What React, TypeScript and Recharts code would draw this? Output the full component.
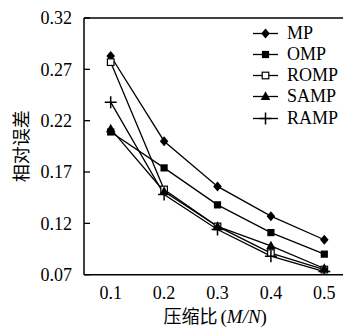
import React from 'react';
import { LineChart, Line, XAxis, YAxis, ReferenceLine, Legend, Label } from 'recharts';

const ratios = [0.1, 0.2, 0.3, 0.4, 0.5];
const mpErr = [0.283, 0.2, 0.156, 0.127, 0.104];
const ompErr = [0.209, 0.174, 0.138, 0.111, 0.09];
const rompErr = [0.277, 0.153, 0.117, 0.091, 0.075];
const sampErr = [0.212, 0.151, 0.117, 0.098, 0.076];
const rampErr = [0.238, 0.148, 0.114, 0.088, 0.073];

const seriesNames = ['MP', 'OMP', 'ROMP', 'SAMP', 'RAMP'];
const markerKinds = ['diamond', 'square', 'osquare', 'triangle', 'plus'];
const xLabelTicks = [0.1, 0.2, 0.3, 0.4, 0.5];
const xMinorTicks = [0.15, 0.25, 0.35, 0.45];
const yTicks = [0.07, 0.12, 0.17, 0.22, 0.27, 0.32];

const data = ratios.map((r, i) => ({
  r,
  MP: mpErr[i],
  OMP: ompErr[i],
  ROMP: rompErr[i],
  SAMP: sampErr[i],
  RAMP: rampErr[i],
}));

const SERIF = "'Liberation Serif', 'DejaVu Serif', 'Times New Roman', Tinos, serif";
const CJK = "'Noto Sans CJK SC', sans-serif";

function Marker({ kind, cx, cy }: { kind: string; cx: number; cy: number }) {
  if (cx == null || cy == null) return null;
  switch (kind) {
    case 'diamond':
      return <polygon points={`${cx},${cy - 5} ${cx + 4.3},${cy} ${cx},${cy + 5} ${cx - 4.3},${cy}`} fill="#000" />;
    case 'square':
      return <rect x={cx - 3.6} y={cy - 3.6} width={7.2} height={7.2} fill="#000" />;
    case 'osquare':
      return <rect x={cx - 3.3} y={cy - 3.3} width={6.6} height={6.6} fill="#fff" stroke="#000" strokeWidth={1.2} />;
    case 'triangle':
      return <polygon points={`${cx},${cy - 5.2} ${cx + 4.8},${cy + 3.4} ${cx - 4.8},${cy + 3.4}`} fill="#000" />;
    case 'plus':
      return (
        <g stroke="#000" strokeWidth={1.5}>
          <line x1={cx - 6} y1={cy} x2={cx + 6} y2={cy} />
          <line x1={cx} y1={cy - 6} x2={cx} y2={cy + 6} />
        </g>
      );
    default:
      return null;
  }
}

const renderLegend = (props: any) => {
  const payload = [...(props.payload || [])].sort(
    (a: any, b: any) => seriesNames.indexOf(a.value) - seriesNames.indexOf(b.value)
  );
  return (
    <div style={{ fontFamily: SERIF, fontSize: 18, color: '#000' }}>
      {payload.map((p: any) => {
        const idx = seriesNames.indexOf(p.value);
        return (
          <div key={p.value} style={{ display: 'flex', alignItems: 'center', height: 21.25 }}>
            <svg width={26} height={21} style={{ display: 'block' }}>
              <line x1={0} y1={10.5} x2={25} y2={10.5} stroke="#000" strokeWidth={1.3} />
              <Marker kind={markerKinds[idx]} cx={12.5} cy={10.5} />
            </svg>
            <span style={{ marginLeft: 8, lineHeight: '21px', fontFamily: SERIF }}>{p.value}</span>
          </div>
        );
      })}
    </div>
  );
};

const XTitle = (props: any) => {
  const vb = props.viewBox || {};
  const cx = vb.x + vb.width / 2;
  const y = vb.y + vb.height + 48;
  return (
    <g fill="#000">
      <text x={cx + 4} y={y} textAnchor="end" style={{ fontFamily: CJK }} fontSize={18}>
        压缩比
      </text>
      <text x={cx + 7} y={y} textAnchor="start" style={{ fontFamily: SERIF }} fontSize={19}>
        (<tspan style={{ fontStyle: 'italic' }}>M/N</tspan>)
      </text>
    </g>
  );
};

const YTitle = (props: any) => {
  const vb = props.viewBox || {};
  const x = vb.x + 20;
  const y = vb.y + vb.height / 2;
  return (
    <text
      x={x}
      y={y}
      textAnchor="middle"
      dominantBaseline="central"
      transform={`rotate(-90 ${x} ${y})`}
      style={{ fontFamily: CJK }}
      fontSize={18}
      fill="#000"
    >
      相对误差
    </text>
  );
};

export default function App() {
  const axisStroke = { stroke: '#000', strokeWidth: 1.5 };
  const tickStyle = { fill: '#000', fontSize: 18, style: { fontFamily: SERIF } };
  return (
    <div style={{ position: 'absolute', left: 0, top: 0, fontFamily: SERIF }}>
      <LineChart width={345} height={334} data={data} margin={{ top: 18, right: 2, left: 0, bottom: 59.3 }}>
        <XAxis
          xAxisId="minor"
          type="number"
          dataKey="r"
          domain={[0.05, 0.535]}
          allowDataOverflow
          ticks={xMinorTicks}
          tick={false}
          tickSize={-6}
          tickLine={{ stroke: '#000', strokeWidth: 1.3 }}
          axisLine={false}
          height={0.01}
        />
        <XAxis
          xAxisId="main"
          type="number"
          dataKey="r"
          domain={[0.05, 0.535]}
          allowDataOverflow
          ticks={xLabelTicks}
          interval={0}
          tickFormatter={(v: number) => v.toFixed(1)}
          tick={tickStyle}
          tickLine={false}
          tickSize={6}
          tickMargin={6}
          axisLine={axisStroke}
          height={0.01}
        >
          <Label content={<XTitle />} />
        </XAxis>
        <YAxis
          type="number"
          domain={[0.07, 0.32]}
          allowDataOverflow
          ticks={yTicks}
          interval={0}
          tickFormatter={(v: number) => v.toFixed(2)}
          tick={tickStyle}
          tickSize={-6}
          tickMargin={18}
          tickLine={{ stroke: '#000', strokeWidth: 1.3 }}
          axisLine={axisStroke}
          width={84}
        >
          <Label content={<YTitle />} />
        </YAxis>
        <ReferenceLine xAxisId="main" y={0.32} stroke="#000" strokeWidth={1.5} />
        <Legend
          layout="horizontal"
          verticalAlign="middle"
          align="center"
          content={renderLegend}
          wrapperStyle={{ position: 'absolute', left: 253, top: 22.5, width: 92 }}
        />
        {seriesNames.map((name, i) => (
          <Line
            key={name}
            xAxisId="main"
            dataKey={name}
            name={name}
            stroke="#000"
            strokeWidth={1.3}
            isAnimationActive={false}
            legendType="line"
            dot={(p: any) => <Marker key={`${name}-${p.index}`} kind={markerKinds[i]} cx={p.cx} cy={p.cy} />}
            activeDot={false}
          />
        ))}
      </LineChart>
    </div>
  );
}
